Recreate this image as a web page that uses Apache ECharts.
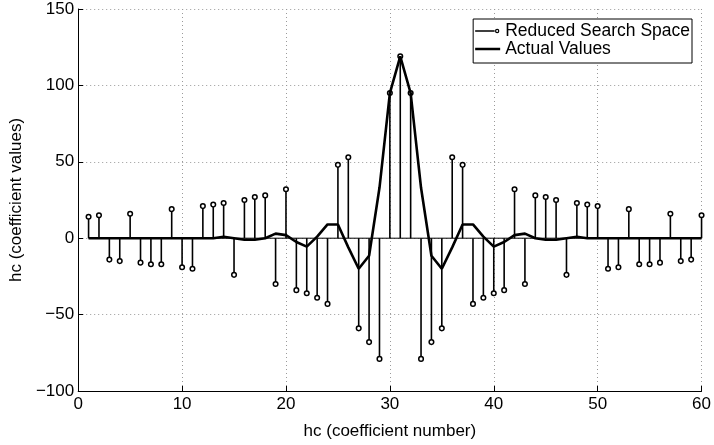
<!DOCTYPE html>
<html>
<head>
<meta charset="utf-8">
<script src="https://cdn.jsdelivr.net/npm/echarts@6/dist/echarts.min.js"></script>
<style>
  html, body { margin: 0; padding: 0; background: #fff; }
  #chart { width: 714px; height: 445px; }
</style>
</head>
<body>
<div id="chart"></div>
<script>
// coefficient index (x) and the two series
const coefNumber = [1, 2, 3, 4, 5, 6, 7, 8, 9, 10, 11, 12, 13, 14, 15, 16, 17, 18, 19, 20,
  21, 22, 23, 24, 25, 26, 27, 28, 29, 30, 31, 32, 33, 34, 35, 36, 37, 38, 39, 40,
  41, 42, 43, 44, 45, 46, 47, 48, 49, 50, 51, 52, 53, 54, 55, 56, 57, 58, 59, 60]

const reducedSearch = [14, 15, -14, -15, 16, -16, -17, -17, 19, -19, -20, 21, 22, 23, -24, 25, 27, 28, -30, 32,
  -34, -36, -39, -43, 48, 53, -59, -68, -79, 95, 119, 95, -79, -68, -59, 53, 48, -43, -39, -36,
  -34, 32, -30, 28, 27, 25, -24, 23, 22, 21, -20, -19, 19, -17, -17, -16, 16, -15, -14, 15]

const actualValues = [0, 0, 0, 0, 0, 0, 0, 0, 0, 0, 0, 0, 0, 1, 0, -1, -1, 0, 3, 2,
  -2.5, -5.5, 1, 9, 9, -6, -20, -11.5, 33, 95, 119, 95, 33, -11.5, -20, -6, 9, 9, 1, -5.5,
  -2.5, 2, 3, 0, -1, -1, 0, 1, 0, 0, 0, 0, 0, 0, 0, 0, 0, 0, 0, 0]

const xTicks = { min: 0, max: 60, interval: 10 }
const yTicks = { min: -100, max: 150, interval: 50 }

const font = 'Liberation Sans, Arial, Helvetica, sans-serif'
const minus = v => String(v).replace('-', '\u2212')

// legend glyphs, both spanning a 25x5 box (corner points keep the same bbox)
const stemIcon = 'path://M0,0 L0,0 Z M25,5 L25,5 Z M0,1.8 L19.5,1.8 L19.5,3.2 L0,3.2 Z ' +
  'M19.8,2.5 A2.2,2.2 0 1 1 24.2,2.5 A2.2,2.2 0 1 1 19.8,2.5 Z M21,2.5 A1,1 0 1 0 23,2.5 A1,1 0 1 0 21,2.5 Z'
const lineIcon = 'path://M0,0 L0,0 Z M25,5 L25,5 Z M0,1.2 L25,1.2 L25,3.8 L0,3.8 Z'

const chart = echarts.init(document.getElementById('chart'), null, { renderer: 'canvas' })

const axisCommon = {
  axisLine: { show: true, onZero: false, lineStyle: { color: '#000', width: 1 } },
  axisTick: { show: true, inside: true, length: 5, lineStyle: { color: '#000' } },
  splitLine: { show: true, lineStyle: { color: '#9a9a9a', type: [1, 3], width: 1 } },
  nameTextStyle: { color: '#000', fontSize: 17, fontFamily: font }
}

const option = {
  animation: false,
  backgroundColor: '#fff',
  grid: { left: 74, right: 10, top: 9, bottom: 54 },
  legend: {
    orient: 'vertical',
    right: 22,
    top: 19,
    padding: [3, 2, 5, 2],
    itemGap: 0,
    itemWidth: 25,
    itemHeight: 5,
    backgroundColor: '#fff',
    borderColor: '#000',
    borderWidth: 1,
    borderRadius: 0,
    textStyle: { color: '#000', fontSize: 17.5, fontFamily: font },
    data: [
      { name: 'Reduced Search Space', icon: stemIcon, itemStyle: { color: '#000' } },
      { name: 'Actual Values', icon: lineIcon, itemStyle: { color: '#000' } }
    ]
  },
  xAxis: {
    type: 'value',
    ...xTicks,
    ...axisCommon,
    name: 'hc (coefficient number)',
    nameLocation: 'middle',
    nameGap: 32,
    axisLabel: { color: '#000', fontSize: 17, fontFamily: font, margin: 5 }
  },
  yAxis: {
    type: 'value',
    ...yTicks,
    ...axisCommon,
    name: 'hc (coefficient values)',
    nameLocation: 'middle',
    nameGap: 47,
    axisLabel: { color: '#000', fontSize: 17, fontFamily: font, margin: 4, formatter: minus }
  },
  series: [
    {
      name: 'baseline',
      type: 'line',
      silent: true,
      symbol: 'none',
      lineStyle: { color: '#000', width: 1 },
      data: [[coefNumber[0], 0], [coefNumber[coefNumber.length - 1], 0]],
      z: 2
    },
    {
      name: 'Reduced Search Space',
      type: 'custom',
      itemStyle: { color: '#000' },
      data: coefNumber.map((x, i) => [x, reducedSearch[i]]),
      renderItem: function (params, api) {
        const x = api.value(0)
        const y = api.value(1)
        const base = api.coord([x, 0])
        const tip = api.coord([x, y])
        return {
          type: 'group',
          children: [
            {
              type: 'line',
              shape: { x1: base[0], y1: base[1], x2: tip[0], y2: tip[1] },
              style: { stroke: '#000', lineWidth: 1.6 }
            },
            {
              type: 'circle',
              shape: { cx: tip[0], cy: tip[1], r: 2.3 },
              style: { fill: '#fff', stroke: '#000', lineWidth: 1.5 }
            }
          ]
        }
      },
      z: 3
    },
    {
      name: 'Actual Values',
      type: 'line',
      symbol: 'none',
      lineStyle: { color: '#000', width: 2.6 },
      itemStyle: { color: '#000' },
      data: coefNumber.map((x, i) => [x, actualValues[i]]),
      z: 4
    }
  ]
}

chart.setOption(option)
</script>
</body>
</html>
